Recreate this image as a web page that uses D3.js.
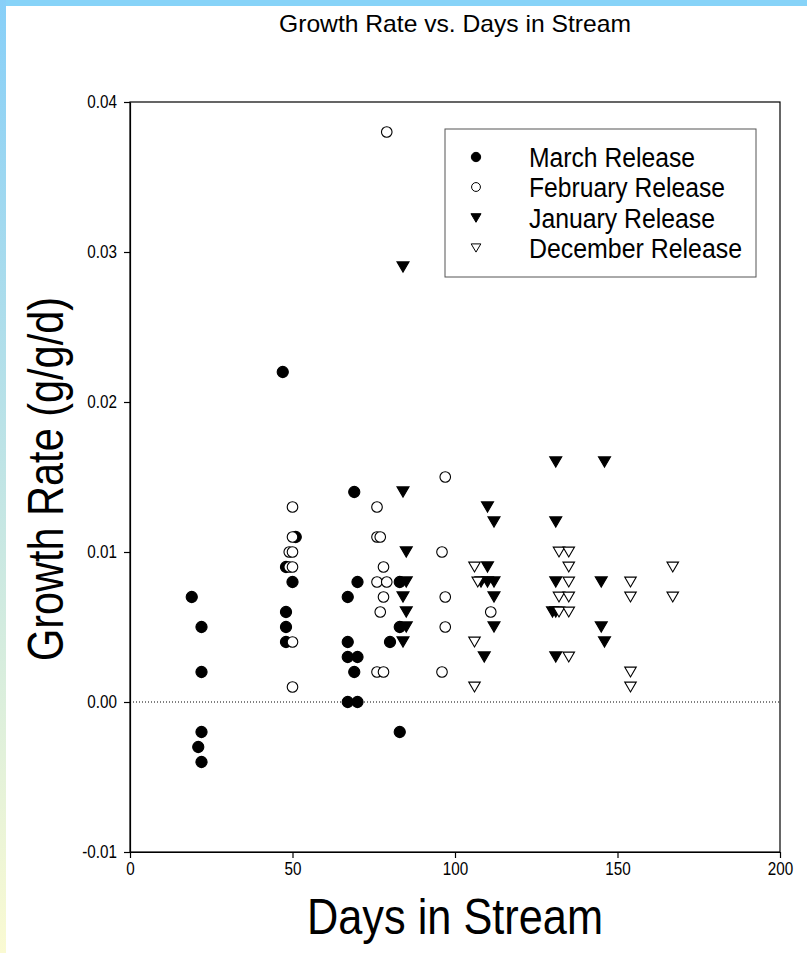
<!DOCTYPE html>
<html>
<head>
<meta charset="utf-8">
<script src="https://cdn.jsdelivr.net/npm/d3@7"></script>
<style>
  html, body { margin: 0; padding: 0; background: #ffffff; }
  svg { display: block; }
  text { font-family: "Liberation Sans", Arial, sans-serif; fill: #000; }
</style>
</head>
<body>
<svg id="chart" width="807" height="953"></svg>
<script>
// ---- data: growth rate (g/g/d) against days in stream, one pair of arrays per release group ----
const marchDays = [19, 22, 22, 22, 21, 22, 47, 48, 48, 48, 48, 50, 51, 69, 70, 67, 67, 67, 70, 69, 67, 70, 83, 83, 80, 83];
const marchRate = [0.007, 0.005, 0.002, -0.002, -0.003, -0.004, 0.022, 0.009, 0.006, 0.005, 0.004, 0.008, 0.011,
                   0.014, 0.008, 0.007, 0.004, 0.003, 0.003, 0.002, 0.000, 0.000, 0.008, 0.005, 0.004, -0.002];

const februaryDays = [50, 50, 49, 50, 49, 50, 50, 50, 79, 76, 76, 77, 78, 76, 79, 78, 77, 76, 78, 97, 96, 97, 97, 96, 111];
const februaryRate = [0.013, 0.011, 0.010, 0.010, 0.009, 0.009, 0.004, 0.001, 0.038, 0.013, 0.011, 0.011, 0.009,
                      0.008, 0.008, 0.007, 0.006, 0.002, 0.002, 0.015, 0.010, 0.007, 0.005, 0.002, 0.006];

const januaryDays = [84, 84, 85, 85, 84, 85, 85, 84, 110, 112, 110, 108, 110, 112, 112, 112, 109,
                     131, 131, 131, 130, 131, 131, 146, 145, 145, 146];
const januaryRate = [0.029, 0.014, 0.010, 0.008, 0.007, 0.006, 0.005, 0.004, 0.013, 0.012, 0.009, 0.008, 0.008,
                     0.008, 0.007, 0.005, 0.003, 0.016, 0.012, 0.008, 0.006, 0.006, 0.003, 0.016, 0.008, 0.005, 0.004];

const decemberDays = [106, 107, 106, 106, 132, 135, 135, 135, 132, 135, 132, 135, 135, 154, 154, 154, 154, 167, 167];
const decemberRate = [0.009, 0.008, 0.004, 0.001, 0.010, 0.010, 0.009, 0.008, 0.007, 0.007, 0.006, 0.006, 0.003,
                      0.008, 0.007, 0.002, 0.001, 0.009, 0.007];

const seriesNames = ["March Release", "February Release", "January Release", "December Release"];

const xTickValues = [0, 50, 100, 150, 200];
const xTickLabels = ["0", "50", "100", "150", "200"];
const yTickValues = [-0.01, 0.00, 0.01, 0.02, 0.03, 0.04];
const yTickLabels = ["-0.01", "0.00", "0.01", "0.02", "0.03", "0.04"];

const chartTitle = "Growth Rate vs. Days in Stream";
const xTitle = "Days in Stream";
const yTitle = "Growth Rate (g/g/d)";

// ---- layout ----
const W = 807, H = 953;
const plot = { left: 130, right: 780, top: 102, bottom: 852 };

const svg = d3.select("#chart");

// decorative slide edge: blue strip along the top, blue-to-cream strip down the left
const defs = svg.append("defs");
const grad = defs.append("linearGradient")
  .attr("id", "edgeFade").attr("x1", 0).attr("y1", 0).attr("x2", 0).attr("y2", 1);
grad.append("stop").attr("offset", "0%").attr("stop-color", "#87cff8");
grad.append("stop").attr("offset", "100%").attr("stop-color", "#fafad2");

svg.append("rect").attr("x", 0).attr("y", 0).attr("width", W).attr("height", 6).attr("fill", "#87d3f8");
svg.append("rect").attr("x", 0).attr("y", 0).attr("width", 6).attr("height", H).attr("fill", "url(#edgeFade)");

// ---- scales ----
const x = d3.scaleLinear().domain([0, 200]).range([plot.left, plot.right]);
const y = d3.scaleLinear().domain([-0.01, 0.04]).range([plot.bottom, plot.top]);

// ---- frame ----
svg.append("rect")
  .attr("x", plot.left).attr("y", plot.top)
  .attr("width", plot.right - plot.left).attr("height", plot.bottom - plot.top)
  .attr("fill", "none").attr("stroke", "#000").attr("stroke-width", 1.2);

// zero reference line
svg.append("line")
  .attr("x1", x(0)).attr("x2", x(200)).attr("y1", y(0)).attr("y2", y(0))
  .attr("stroke", "#000").attr("stroke-width", 1).attr("stroke-dasharray", "1,2");

// ---- axes ----
const xAxis = d3.axisBottom(x)
  .tickValues(xTickValues)
  .tickFormat((d, i) => xTickLabels[i])
  .tickSize(6).tickSizeOuter(0).tickPadding(5);
const yAxis = d3.axisLeft(y)
  .tickValues(yTickValues)
  .tickFormat((d, i) => yTickLabels[i])
  .tickSize(6).tickSizeOuter(0).tickPadding(7);

const gx = svg.append("g").attr("transform", `translate(0,${plot.bottom})`).call(xAxis);
const gy = svg.append("g").attr("transform", `translate(${plot.left},0)`).call(yAxis);
[gx, gy].forEach(g => {
  g.select(".domain").attr("stroke", "#000").attr("stroke-width", 1.2);
  g.selectAll(".tick line").attr("stroke", "#000").attr("stroke-width", 1.2);
  // tall, slightly narrow tick numerals
  g.selectAll(".tick text")
    .attr("font-family", "'Liberation Sans', Arial, sans-serif")
    .attr("font-size", 17.5).attr("fill", "#000")
    .each(function () {
      const len = this.getComputedTextLength();
      d3.select(this).attr("textLength", len * 0.87).attr("lengthAdjust", "spacingAndGlyphs");
    });
});

// ---- titles ----
svg.append("text")
  .attr("x", (plot.left + plot.right) / 2).attr("y", 32)
  .attr("text-anchor", "middle").attr("font-size", 24)
  .attr("textLength", 352).attr("lengthAdjust", "spacingAndGlyphs")
  .text(chartTitle);

svg.append("text")
  .attr("x", (plot.left + plot.right) / 2).attr("y", 934)
  .attr("text-anchor", "middle").attr("font-size", 50)
  .attr("textLength", 296).attr("lengthAdjust", "spacingAndGlyphs")
  .text(xTitle);

svg.append("text")
  .attr("transform", `translate(63,${(plot.top + plot.bottom) / 2 + 2}) rotate(-90)`)
  .attr("text-anchor", "middle").attr("font-size", 50)
  .attr("textLength", 364).attr("lengthAdjust", "spacingAndGlyphs")
  .text(yTitle);

// ---- marker shapes ----
const downTriangle = {
  draw(context, size) {
    const w = Math.sqrt(size) * 0.7;      // half width
    const h = w * 0.85;                   // half height
    context.moveTo(-w, -h);
    context.lineTo(w, -h);
    context.lineTo(0, h);
    context.closePath();
  }
};

const series = [
  { name: seriesNames[0], days: marchDays, rate: marchRate, type: d3.symbolCircle, filled: true, size: 98 },
  { name: seriesNames[1], days: februaryDays, rate: februaryRate, type: d3.symbolCircle, filled: false, size: 88 },
  { name: seriesNames[2], days: januaryDays, rate: januaryRate, type: downTriangle, filled: true, size: 74 },
  { name: seriesNames[3], days: decemberDays, rate: decemberRate, type: downTriangle, filled: false, size: 68 }
];

const points = svg.append("g");
series.forEach(s => {
  const pts = s.days.map((d, i) => ({ d, r: s.rate[i] }));
  points.append("g").selectAll("path").data(pts).join("path")
    .attr("transform", p => `translate(${x(p.d)},${y(p.r)})`)
    .attr("d", d3.symbol().type(s.type).size(s.size))
    .attr("fill", s.filled ? "#000" : "#fff")
    .attr("stroke", "#000").attr("stroke-width", 1.1);
});

// ---- legend ----
const legend = svg.append("g");
legend.append("rect")
  .attr("x", 445).attr("y", 129).attr("width", 311).attr("height", 148)
  .attr("fill", "#fff").attr("stroke", "#555").attr("stroke-width", 1);

const legendRows = [157, 187, 218, 248];
const legendWidths = [166, 196, 186, 213];
series.forEach((s, i) => {
  legend.append("path")
    .attr("transform", `translate(476,${legendRows[i]})`)
    .attr("d", d3.symbol().type(s.type).size(s.size * 0.7))
    .attr("fill", s.filled ? "#000" : "#fff")
    .attr("stroke", "#000").attr("stroke-width", 1);
  legend.append("text")
    .attr("x", 529).attr("y", legendRows[i] + 9.5)
    .attr("font-size", 27)
    .attr("textLength", legendWidths[i]).attr("lengthAdjust", "spacingAndGlyphs")
    .text(s.name);
});
</script>
</body>
</html>
